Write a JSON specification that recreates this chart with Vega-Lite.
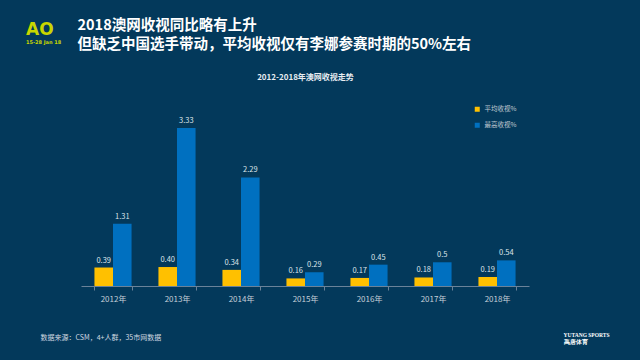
{
  "$schema": "https://vega.github.io/schema/vega-lite/v6.json",
  "width": 448,
  "height": 166,
  "autosize": {"type": "none"},
  "padding": {"left": 81, "top": 120, "right": 111, "bottom": 74},
  "background": "#03395b",
  "config": {"view": {"stroke": null}, "font": "Noto Sans CJK SC"},
  "title": {
    "text": "AO",
    "subtitle": "15-28 Jan 18",
    "anchor": "start",
    "frame": "group",
    "dx": -55,
    "offset": -29,
    "fontSize": 17,
    "fontWeight": "bold",
    "color": "#c8d600",
    "font": "DejaVu Sans",
    "subtitleFont": "DejaVu Sans",
    "subtitleFontSize": 5,
    "subtitleFontWeight": "bold",
    "subtitleColor": "#c8d600",
    "subtitlePadding": 1
  },
  "data": {
    "values": [
      {"year": "2012年", "series": "平均收视%", "value": 0.39, "label": "0.39"},
      {"year": "2012年", "series": "最高收视%", "value": 1.31, "label": "1.31"},
      {"year": "2013年", "series": "平均收视%", "value": 0.40, "label": "0.40"},
      {"year": "2013年", "series": "最高收视%", "value": 3.33, "label": "3.33"},
      {"year": "2014年", "series": "平均收视%", "value": 0.34, "label": "0.34"},
      {"year": "2014年", "series": "最高收视%", "value": 2.29, "label": "2.29"},
      {"year": "2015年", "series": "平均收视%", "value": 0.16, "label": "0.16"},
      {"year": "2015年", "series": "最高收视%", "value": 0.29, "label": "0.29"},
      {"year": "2016年", "series": "平均收视%", "value": 0.17, "label": "0.17"},
      {"year": "2016年", "series": "最高收视%", "value": 0.45, "label": "0.45"},
      {"year": "2017年", "series": "平均收视%", "value": 0.18, "label": "0.18"},
      {"year": "2017年", "series": "最高收视%", "value": 0.5, "label": "0.5"},
      {"year": "2018年", "series": "平均收视%", "value": 0.19, "label": "0.19"},
      {"year": "2018年", "series": "最高收视%", "value": 0.54, "label": "0.54"}
    ]
  },
  "layer": [
    {
      "mark": {"type": "bar"},
      "encoding": {
        "x": {
          "field": "year",
          "type": "nominal",
          "scale": {"paddingInner": 0.42, "paddingOuter": 0.21},
          "axis": {
            "orient": "bottom",
            "labelAngle": 0,
            "labelColor": "#c5cfd8",
            "labelFontSize": 8,
            "labelPadding": 5,
            "domainColor": "#6a8299",
            "tickColor": "#6a8299",
            "tickBand": "extent",
            "tickSize": 4,
            "title": "数据来源：CSM，4+人群，35市网数据",
            "titleX": -41,
            "titleY": 51,
            "titleAlign": "left",
            "titleBaseline": "middle",
            "titleFontSize": 7,
            "titleFontWeight": "normal",
            "titleColor": "#d0d8e0"
          }
        },
        "xOffset": {"field": "series", "type": "nominal", "sort": ["平均收视%", "最高收视%"]},
        "y": {
          "field": "value",
          "type": "quantitative",
          "scale": {"domain": [0, 3.5]},
          "axis": {
            "orient": "left",
            "labels": false,
            "ticks": false,
            "domain": false,
            "grid": false,
            "title": "2012-2018年澳网收视走势",
            "titleAngle": 0,
            "titleX": 224,
            "titleY": -43,
            "titleAlign": "center",
            "titleBaseline": "middle",
            "titleFontSize": 8,
            "titleFontWeight": "bold",
            "titleColor": "#e8edf2"
          }
        },
        "color": {
          "field": "series",
          "type": "nominal",
          "scale": {"domain": ["平均收视%", "最高收视%"], "range": ["#FFC000", "#0070C0"]},
          "legend": {
            "orient": "none",
            "legendX": 393,
            "legendY": -14,
            "title": null,
            "symbolType": "square",
            "symbolSize": 25,
            "symbolStrokeWidth": 0,
            "labelFontSize": 6.5,
            "labelColor": "#c0c9d2",
            "rowPadding": 9
          }
        }
      }
    },
    {
      "mark": {"type": "text", "baseline": "bottom", "dy": -3, "fontSize": 7.5, "color": "#dde4ea"},
      "encoding": {
        "x": {
          "field": "year",
          "type": "nominal",
          "axis": {
            "orient": "top",
            "labels": false,
            "ticks": false,
            "domain": false,
            "title": ["2018澳网收视同比略有上升", "但缺乏中国选手带动，平均收视仅有李娜参赛时期的50%左右"],
            "titleX": -4,
            "titleY": -102,
            "titleAlign": "left",
            "titleBaseline": "top",
            "titleFontSize": 14.5,
            "titleLineHeight": 19.5,
            "titleFontWeight": "bold",
            "titleColor": "#ffffff"
          }
        },
        "xOffset": {"field": "series", "type": "nominal", "sort": ["平均收视%", "最高收视%"]},
        "y": {
          "field": "value",
          "type": "quantitative",
          "axis": {
            "orient": "right",
            "labels": false,
            "ticks": false,
            "domain": false,
            "grid": false,
            "title": ["YUTANG SPORTS", "禹唐体育"],
            "titleAngle": 0,
            "titleX": 34,
            "titleY": 212,
            "titleAlign": "left",
            "titleBaseline": "top",
            "titleFontSize": 5.5,
            "titleLineHeight": 7,
            "titleFontWeight": "bold",
            "titleFont": "Liberation Serif",
            "titleColor": "#ffffff"
          }
        },
        "text": {"field": "label", "type": "nominal"}
      }
    }
  ],
  "resolve": {"axis": {"x": "independent", "y": "independent"}}
}
